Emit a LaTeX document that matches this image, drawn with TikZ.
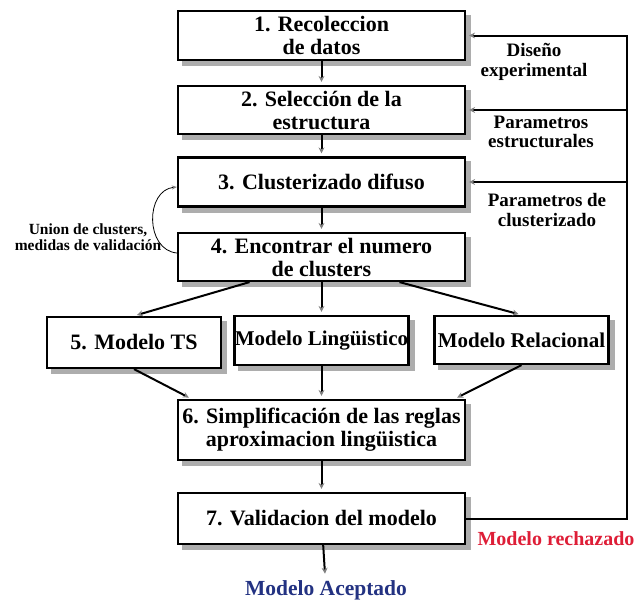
\documentclass[tikz,border=0pt]{standalone}
\usepackage{fontspec}
\setmainfont{Liberation Serif}
\usepackage{xcolor}
\usetikzlibrary{arrows.meta, backgrounds}

\definecolor{rechazo}{RGB}{222,30,55}
\definecolor{acepta}{RGB}{35,50,130}

\begin{document}
\begin{tikzpicture}[
		x=1pt, y=-1pt,
		every node/.style={align=center, font=\bfseries},
		stepbox/.style={draw, line width=2.2pt, fill=white, minimum width=287pt, minimum height=49pt, inner sep=1pt,
			font=\fontsize{22}{23}\selectfont\bfseries},
		modelbox/.style={stepbox, minimum width=174pt, font=\fontsize{21}{22}\selectfont\bfseries},
		sidelabel/.style={font=\fontsize{19}{19.5}\selectfont\bfseries},
		outlabel/.style={font=\fontsize{20}{21}\selectfont\bfseries},
		arrow/.style={line width=2pt, -{Stealth[length=6pt, width=6pt, gray]}, shorten >=3pt},
		loop arrow/.style={line width=0.8pt, -{Stealth[length=5pt, width=4pt, gray]}},
		boxshadow/.style={fill=black!32}
		]
		\useasboundingbox (0,0) rectangle (636,603);
		
		% Nodes
		\node (b1) [stepbox] at (321.5,35.5) {1. Recoleccion\\de datos};
		\node (b2) [stepbox, minimum height=48pt] at (321.5,110) {2. Selección de la\\estructura};
		\node (b3) [stepbox] at (321.5,182) {3. Clusterizado difuso};
		\node (b4) [stepbox, minimum height=48pt] at (321.5,257) {4. Encontrar el numero\\de clusters};
		\node (b5) [modelbox, minimum height=51pt, font=\fontsize{22}{23}\selectfont\bfseries] at (134,342.5) {5. Modelo TS};
		\node (ling) [modelbox, inner sep=0pt] at (321.5,340.5) {Modelo Lingüistico};
		\node (rel) [modelbox, minimum height=48pt] at (521.5,340) {Modelo Relacional};
		\node (b6) [stepbox, minimum height=60pt] at (321.5,430) {6. Simplificación de las reglas\\aproximacion lingüistica};
		\node (b7) [stepbox, minimum height=51pt] at (321.5,518.5) {7. Validacion del modelo};
		
		\node (disenio) [sidelabel] at (534,62) {Diseño\\experimental};
		\node (pestr) [sidelabel] at (541,132) {Parametros\\estructurales};
		\node (pclus) [sidelabel] at (547,210) {Parametros de\\clusterizado};
		\node (union) [font=\fontsize{15.5}{15.5}\selectfont\bfseries] at (88,237) {Union de clusters,\\medidas de validación};
		\node (rech) [outlabel, text=rechazo] at (556,539) {Modelo rechazado};
		\node (acep) [outlabel, text=acepta, font=\fontsize{21.5}{22}\selectfont\bfseries] at (326,590) {Modelo Aceptado};
		\coordinate (corner) at (627,35.5);
		
		% Shadows
		\begin{scope}[on background layer]
			\foreach \n in {b1,b2,b3,b4,b5,ling,rel,b6,b7}
				\fill [boxshadow] ([shift={(5pt,-5pt)}]\n.south west) rectangle ([shift={(5pt,-5pt)}]\n.north east);
		\end{scope}
		
		% Connections
		\draw [arrow] (b1) -- (b2);
		\draw [arrow] (b2) -- (b3);
		\draw [arrow] (b3) -- (b4);
		\draw [arrow] ([xshift=-72pt]b4.south) -- (b5.north);
		\draw [arrow] (b4) -- (ling);
		\draw [arrow] ([xshift=78pt]b4.south) -- (rel.north);
		\draw [arrow] (b5.south) -- ([xshift=-130pt]b6.north);
		\draw [arrow] (ling) -- (b6);
		\draw [arrow] (rel.south) -- ([xshift=133pt]b6.north);
		\draw [arrow] (b6) -- (b7);
		\draw [arrow] (b7) -- (acep);
		
		% Feedback
		\draw [arrow] (b7.east) -| (corner) -- (b1.east);
		\draw [arrow] (b2.east -| corner) -- (b2.east);
		\draw [arrow] (b3.east -| corner) -- (b3.east);
		\draw [loop arrow] ([yshift=4pt]b4.west) .. controls (145,250) and (145,190) .. ([yshift=-5pt]b3.west);
		
	\end{tikzpicture}
\end{document}
